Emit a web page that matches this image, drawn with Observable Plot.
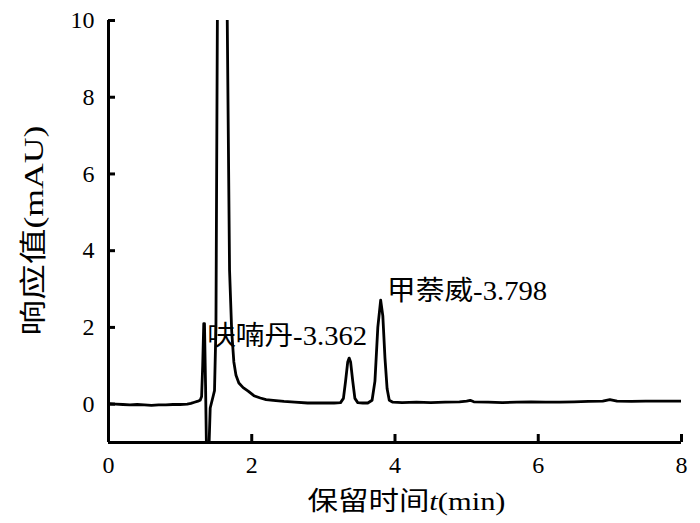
<!DOCTYPE html>
<html><head><meta charset="utf-8">
<script src="https://cdn.jsdelivr.net/npm/d3@7"></script>
<script src="https://cdn.jsdelivr.net/npm/@observablehq/plot@0.6"></script>
<style>html,body{margin:0;padding:0;background:#fff}
svg text, svg tspan{font-family:'Liberation Serif','Noto Sans CJK SC',serif !important;}</style>
</head><body><div id="chart"></div>
<script>
const time = [0, 0.1, 0.2, 0.3, 0.4, 0.5, 0.6, 0.7, 0.8, 0.9, 1.0, 1.1, 1.15, 1.2, 1.25, 1.28,
  1.30, 1.315, 1.33, 1.34, 1.355, 1.37, 1.38, 1.395, 1.405, 1.42, 1.44, 1.46, 1.48, 1.50, 1.52, 1.55, 1.658, 1.69, 1.72, 1.75, 1.78, 1.82, 1.88, 1.95, 2.03, 2.12, 2.2, 2.3, 2.45, 2.6, 2.78, 3.0, 3.15, 3.24,
  3.28, 3.31, 3.34, 3.36, 3.38, 3.41, 3.44, 3.48, 3.55, 3.62, 3.68, 3.72, 3.76, 3.80, 3.83, 3.86, 3.89, 3.92, 3.97,
  4.1, 4.3, 4.5, 4.7, 4.9, 5.0, 5.05, 5.1, 5.3, 5.5, 5.7, 5.9, 6.1, 6.3, 6.5, 6.7, 6.9, 7.0, 7.1, 7.3, 7.5, 7.7, 8.0];
const response = [0.01, 0.0, -0.01, -0.02, -0.01, -0.02, -0.03, -0.02, -0.02, -0.01, -0.01, 0.0, 0.02, 0.05, 0.08, 0.1,
  0.2, 1.0, 2.1, 2.1, 0.5, -1.5, -3, -3, -1, -0.1, 0.05, 0.2, 0.35, 2.0, 10, 25, 10, 3.5, 1.9, 1.1, 0.75, 0.55, 0.43, 0.34, 0.22, 0.16, 0.12, 0.1, 0.07, 0.05, 0.03, 0.03, 0.03, 0.04,
  0.15, 0.6, 1.1, 1.2, 1.1, 0.6, 0.15, 0.04, 0.03, 0.03, 0.1, 0.6, 2.0, 2.71, 2.3, 1.2, 0.4, 0.1, 0.05,
  0.04, 0.05, 0.04, 0.05, 0.06, 0.08, 0.1, 0.06, 0.05, 0.04, 0.05, 0.06, 0.05, 0.05, 0.06, 0.07, 0.08, 0.12, 0.08, 0.07, 0.08, 0.08, 0.08];
const xTicks = [0, 2, 4, 6, 8];
const yTicks = [0, 2, 4, 6, 8, 10];
const peakLabels = ["呋喃丹-3.362", "甲萘威-3.798"];
const labelTime = [1.377, 3.89];
const labelResponse = [1.53, 2.72];
const xTitleMain = "保留时间";
const xTitleVar = "t";
const xTitleUnit = "(min)";
const yTitle = "响应值(mAU)";

const data = time.map((t, i) => ({t, v: response[i]}));
const labels = peakLabels.map((s, i) => ({s, t: labelTime[i], v: labelResponse[i]}));
const font = "'Liberation Serif', 'Noto Sans CJK SC', serif";

const W = 700, H = 523, mL = 108, mR = 19, mT = 20, mB = 81;
const plotW = W - mL - mR, plotH = H - mT - mB;

const chart = Plot.plot({
  width: W, height: H,
  marginLeft: mL, marginRight: mR, marginTop: mT, marginBottom: mB,
  style: `font-family: ${font}; font-size: 24px; background: #fff; color: #000;`,
  x: {domain: [0, 8]},
  y: {domain: [-1, 10]},
  marks: [
    Plot.line(data, {x: "t", y: "v", stroke: "#000", strokeWidth: 2.8, clip: true}),
    Plot.ruleX([0], {stroke: "#000", strokeWidth: 3}),
    Plot.ruleY([-1], {stroke: "#000", strokeWidth: 3}),
    Plot.tickY(yTicks, {y: d => d, stroke: "#000", strokeWidth: 3, insetRight: plotW - 7}),
    Plot.tickX(xTicks.slice(1), {x: d => d, stroke: "#000", strokeWidth: 3, insetTop: plotH - 8}),
    Plot.axisY({ticks: yTicks, tickSize: 0, tickPadding: 14, fontSize: 24, fontFamily: font, label: null, tickFormat: d => String(d)}),
    Plot.axisX({ticks: xTicks, tickSize: 0, tickPadding: 13, fontSize: 24, fontFamily: font, label: null, tickFormat: d => String(d)}),
    Plot.text(labels, {x: "t", y: "v", text: "s", textAnchor: "start", lineAnchor: "bottom", fontSize: 27, fontFamily: font, fill: "#000"}),
    Plot.text([xTitleMain + xTitleVar + xTitleUnit], {frameAnchor: "bottom-left", dx: 199, dy: 67, textAnchor: "start", lineAnchor: "bottom", fontSize: 26, fontFamily: font, fill: "#000"}),
    Plot.text([yTitle], {frameAnchor: "bottom-left", dx: -66, dy: -107, rotate: -90, textAnchor: "start", lineAnchor: "bottom", fontSize: 27, fontFamily: font, fill: "#000"})
  ]
});
document.getElementById("chart").appendChild(chart);

// italic variable in the x title, and widths matched to the reference
const svg = d3.select(chart);
svg.selectAll("text").each(function() {
  const el = d3.select(this);
  const s = this.textContent;
  if (s === xTitleMain + xTitleVar + xTitleUnit) {
    el.text(null);
    el.append("tspan").text(xTitleMain);
    el.append("tspan").attr("font-style", "italic").text(xTitleVar);
    el.append("tspan").text(xTitleUnit);
    el.attr("textLength", 198).attr("lengthAdjust", "spacingAndGlyphs");
  } else if (s === yTitle) {
    el.attr("textLength", 210).attr("lengthAdjust", "spacingAndGlyphs");
  } else if (peakLabels.includes(s)) {
    el.attr("textLength", 160).attr("lengthAdjust", "spacingAndGlyphs");
  }
});
</script>
</body></html>
